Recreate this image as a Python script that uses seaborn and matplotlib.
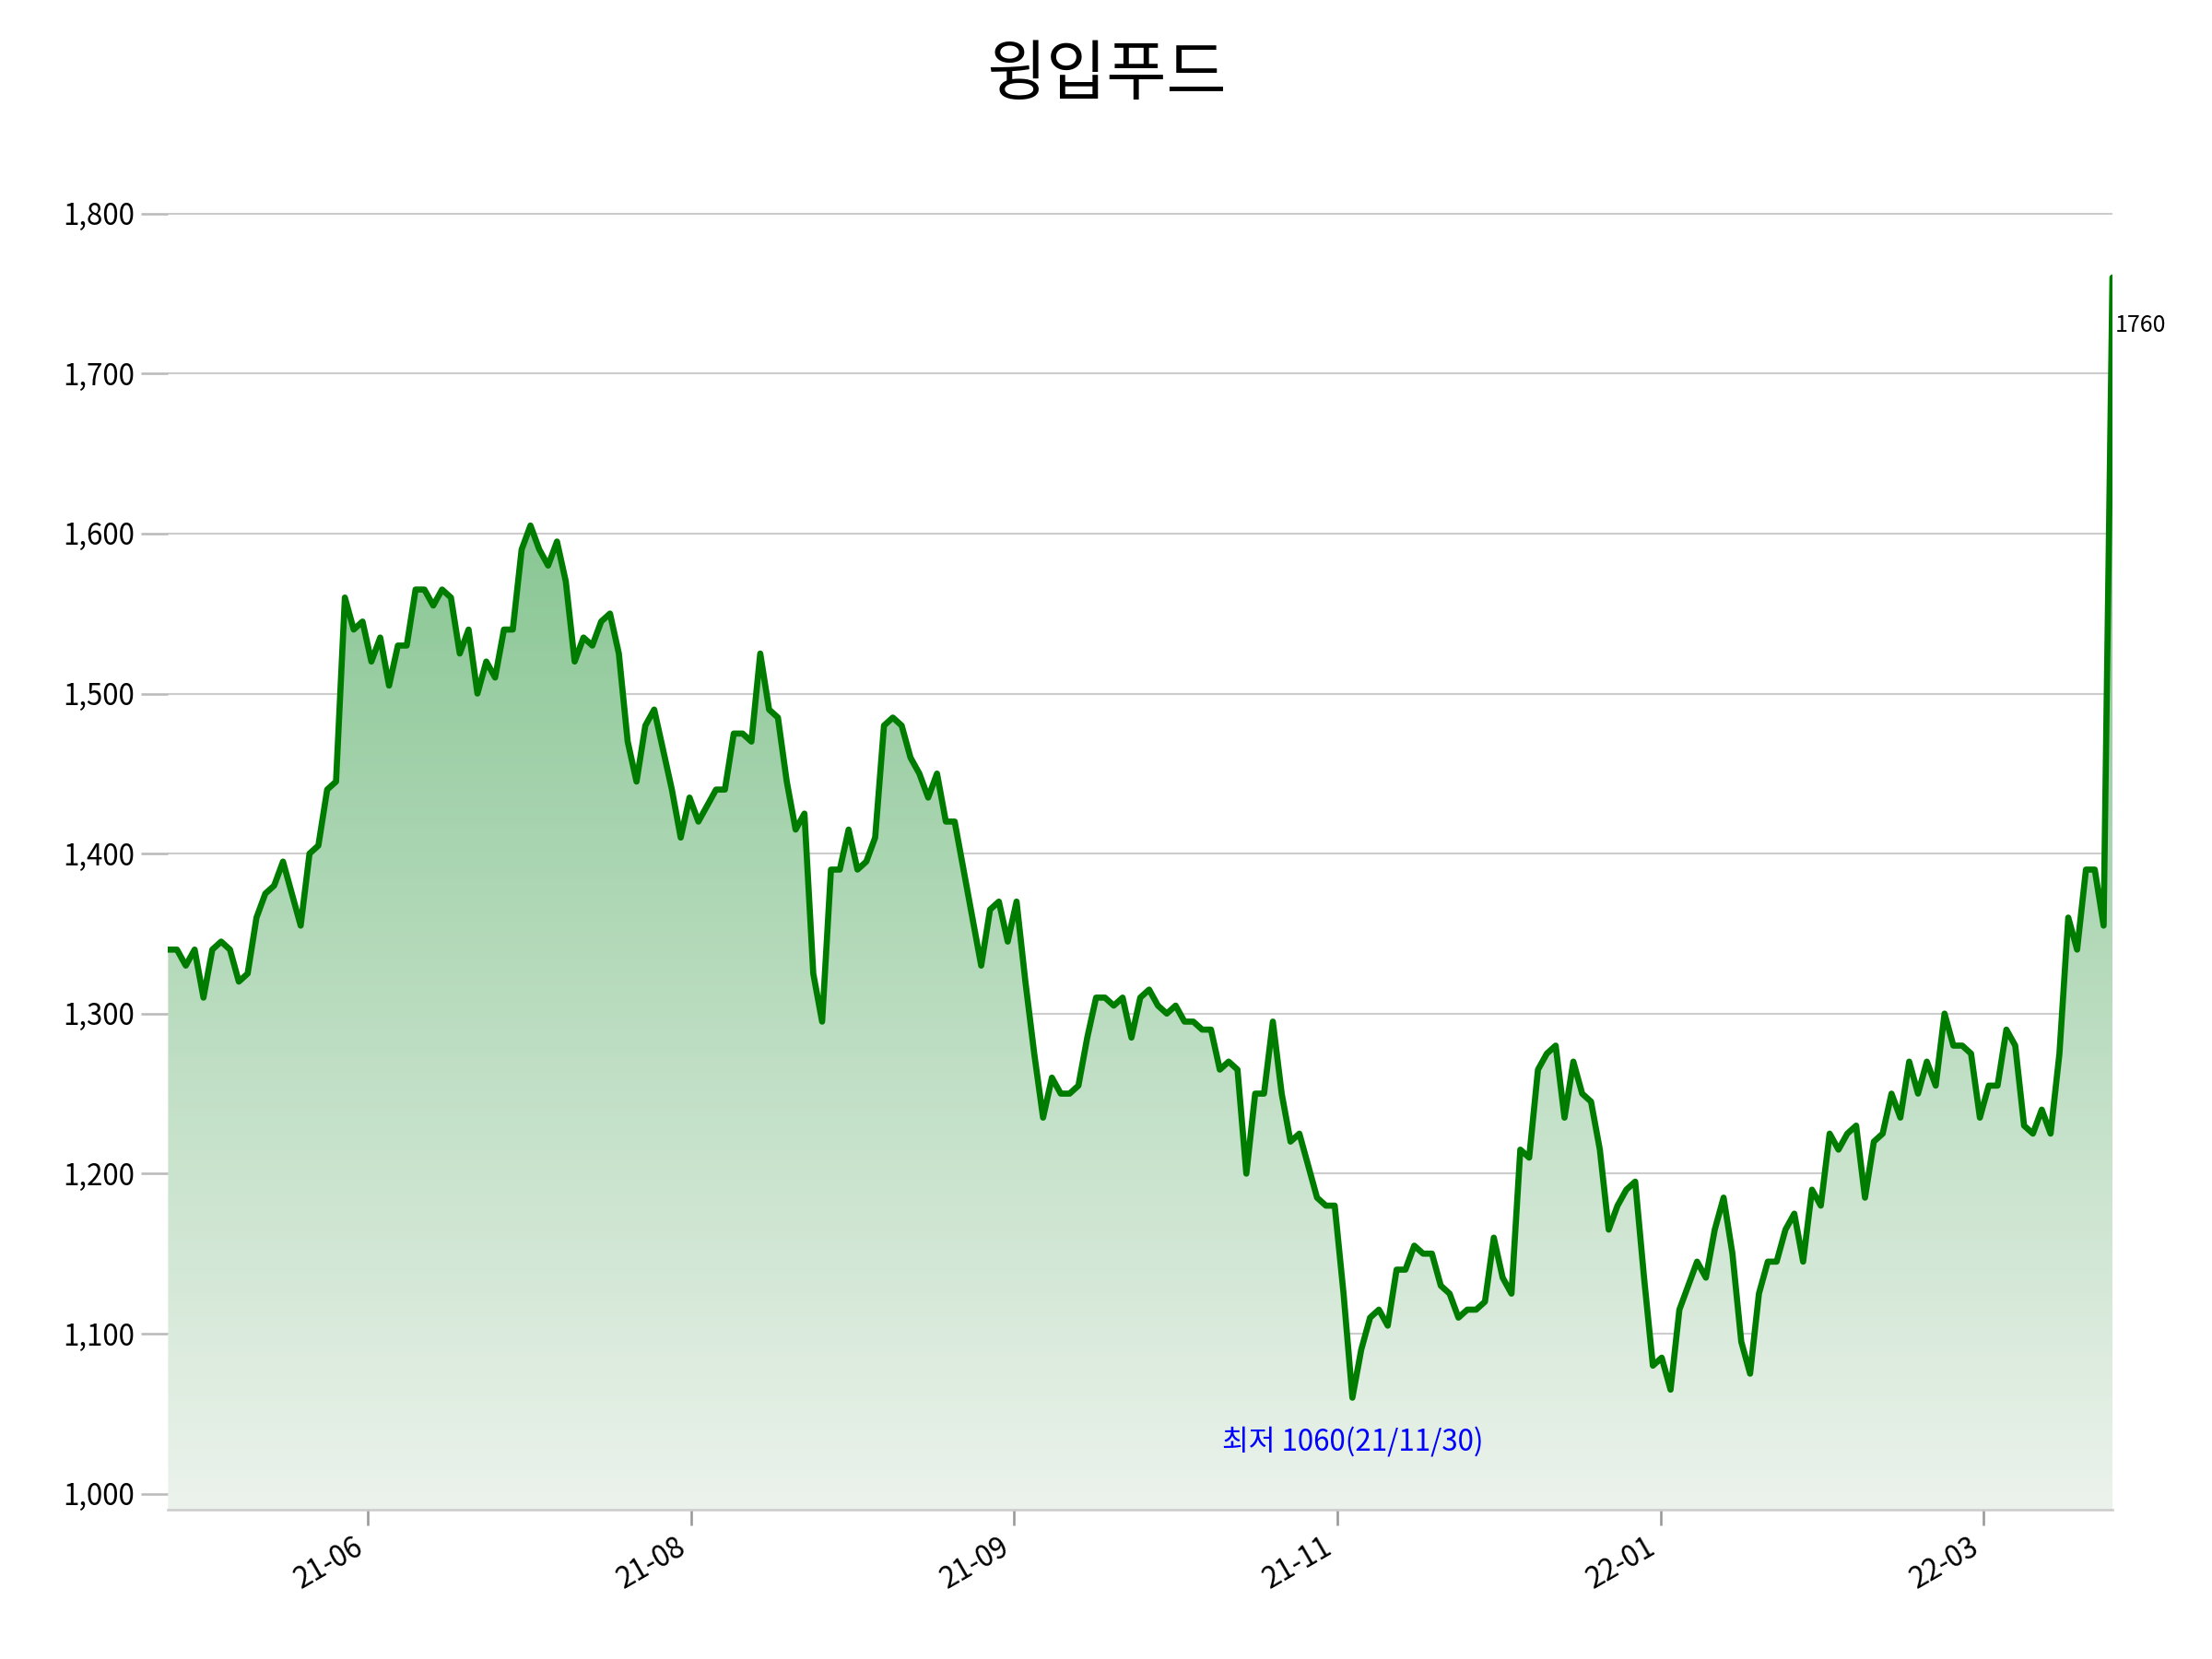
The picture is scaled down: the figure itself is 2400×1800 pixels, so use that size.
import numpy as np
import matplotlib.pyplot as plt
import seaborn as sns
from matplotlib.patches import Polygon

sns.set_theme(style="white")
plt.rcParams["font.family"] = ["Noto Sans CJK KR", "DejaVu Sans"]
plt.rcParams["text.color"] = "black"
plt.rcParams["xtick.color"] = "black"
plt.rcParams["ytick.color"] = "black"

# closing prices (one per trading day, roughly)
prices = [
    1340, 1340, 1330, 1340, 1310, 1340, 1345, 1340, 1320, 1325, 1360, 1375, 1380, 1395,
    1375, 1355, 1400, 1405, 1440, 1445, 1560, 1540, 1545, 1520, 1535, 1505, 1530, 1530,
    1565, 1565, 1555, 1565, 1560, 1525, 1540, 1500, 1520, 1510, 1540, 1540, 1590, 1605,
    1590, 1580, 1595, 1570, 1520, 1535, 1530, 1545, 1550, 1525, 1470, 1445, 1480, 1490,
    1465, 1440, 1410, 1435, 1420, 1430, 1440, 1440, 1475, 1475, 1470, 1525, 1490, 1485,
    1445, 1415, 1425, 1325, 1295, 1390, 1390, 1415, 1390, 1395, 1410, 1480, 1485, 1480,
    1460, 1450, 1435, 1450, 1420, 1420, 1390, 1360, 1330, 1365, 1370, 1345, 1370, 1320,
    1275, 1235, 1260, 1250, 1250, 1255, 1285, 1310, 1310, 1305, 1310, 1285, 1310, 1315,
    1305, 1300, 1305, 1295, 1295, 1290, 1290, 1265, 1270, 1265, 1200, 1250, 1250, 1295,
    1250, 1220, 1225, 1205, 1185, 1180, 1180, 1125, 1060, 1090, 1110, 1115, 1105, 1140,
    1140, 1155, 1150, 1150, 1130, 1125, 1110, 1115, 1115, 1120, 1160, 1135, 1125, 1215,
    1210, 1265, 1275, 1280, 1235, 1270, 1250, 1245, 1215, 1165, 1180, 1190, 1195, 1135,
    1080, 1085, 1065, 1115, 1130, 1145, 1135, 1165, 1185, 1150, 1095, 1075, 1125, 1145,
    1145, 1165, 1175, 1145, 1190, 1180, 1225, 1215, 1225, 1230, 1185, 1220, 1225, 1250,
    1235, 1270, 1250, 1270, 1255, 1300, 1280, 1280, 1275, 1235, 1255, 1255, 1290, 1280,
    1230, 1225, 1240, 1225, 1275, 1360, 1340, 1390, 1390, 1355, 1760,
]
tick_labels = ["21-06", "21-08", "21-09", "21-11", "22-01", "22-03"]
low_label = "최저 1060(21/11/30)"
title = "윙입푸드"

n = len(prices)
x = np.arange(n)
y = np.array(prices, dtype=float)

fig = plt.figure(figsize=(16, 12), dpi=150)
ax = fig.add_axes([0.076, 0.09, 0.879, 0.79])
ymin, ymax = 990, 1809

# gradient fill under the line
grad = np.linspace(0.0, 0.55, 256).reshape(-1, 1)
cmap = sns.light_palette("#35a048", as_cmap=True)
img = ax.imshow(grad, aspect="auto", cmap=cmap, vmin=0, vmax=1, origin="lower",
                extent=[0, n - 1, ymin, 1620], zorder=1)
poly = Polygon(np.column_stack([np.r_[x, x[-1], 0], np.r_[y, ymin, ymin]]),
               closed=True, facecolor="none", edgecolor="none")
ax.add_patch(poly)
img.set_clip_path(poly)

sns.lineplot(x=x, y=y, ax=ax, color="#007d00", linewidth=3.2, zorder=3)

ax.set_xlim(0, n - 1)
ax.set_ylim(ymin, ymax)
ax.set_yticks(range(1000, 1801, 100))
ax.set_yticklabels([f"{v:,}" for v in range(1000, 1801, 100)], fontsize=15)
ax.yaxis.grid(True, color="#cccccc", linewidth=1)
ax.set_axisbelow(True)

ticks = [(n - 1) * (0.1028 + 0.1662 * k) for k in range(len(tick_labels))]
ax.set_xticks(ticks)
ax.set_xticklabels(tick_labels, fontsize=15, rotation=30, ha="right")
ax.tick_params(axis="x", length=8, color="#999999", bottom=True)
ax.tick_params(axis="y", length=14, color="#bbbbbb", left=True)

for s in ["top", "right", "left"]:
    ax.spines[s].set_visible(False)
ax.spines["bottom"].set_color("#cccccc")

lo = int(np.argmin(y))
ax.text(x[lo], y[lo] - 18, low_label, color="blue", fontsize=15, ha="center", va="top")
ax.text(x[-1] + 0.3, y[-1] - 30, f"{int(y[-1])}", color="black", fontsize=12,
        ha="left", va="center")

fig.suptitle(title, fontsize=34, y=0.975, fontweight="medium")
fig.savefig("out.png", dpi=150)
